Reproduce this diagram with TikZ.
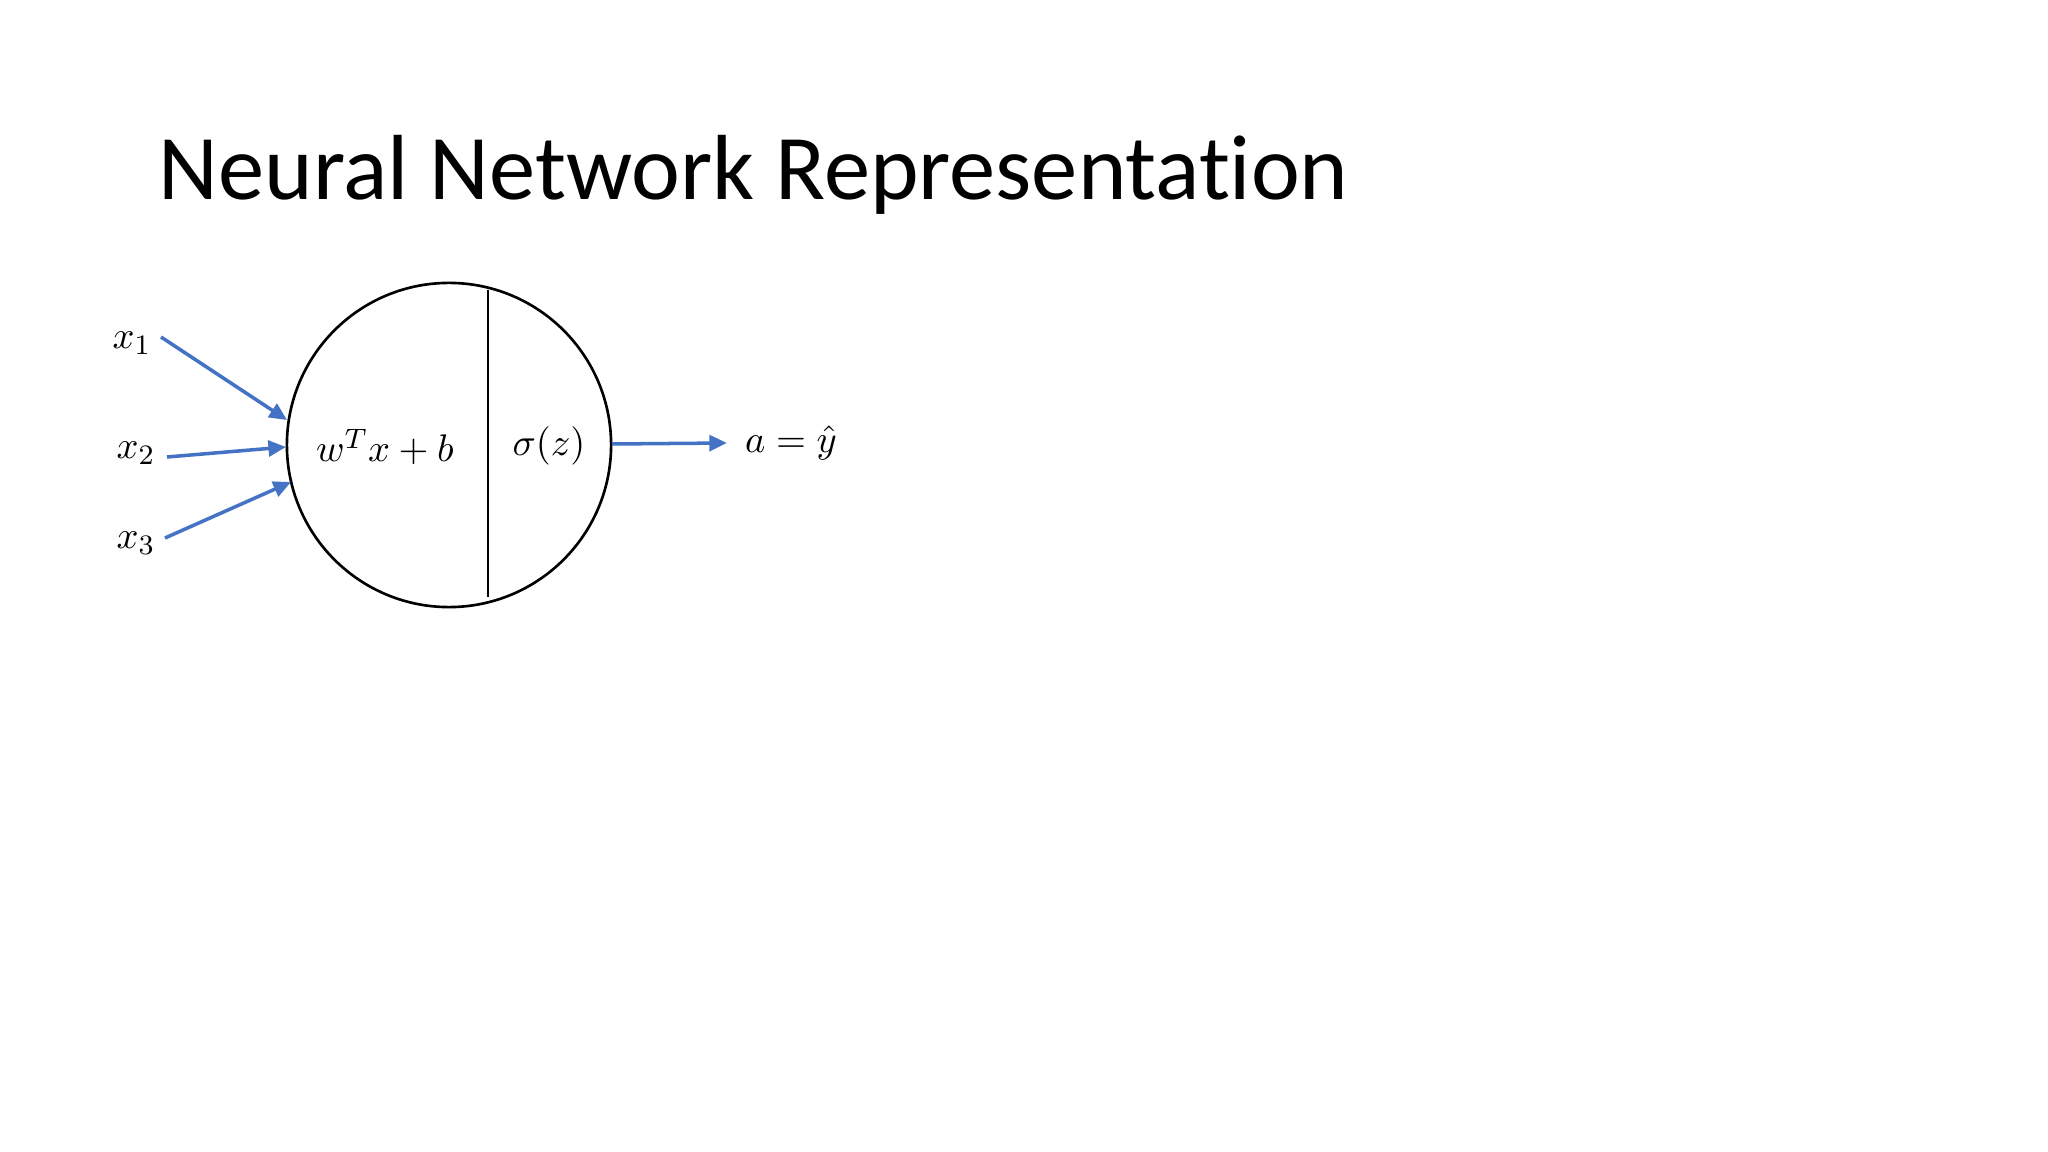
\documentclass[tikz,border=0pt]{standalone}
\usepackage{fontspec}
\newfontfamily\titlefont[RawFeature={-liga}]{Carlito}
\usetikzlibrary{arrows.meta,calc}
\definecolor{arrowblue}{HTML}{4472C4}
\tikzset{
  inarrow/.style={draw=arrowblue, line width=1pt, -{Triangle[length=5pt,width=4.5pt]}},
  mathlbl/.style={inner sep=0pt, font=\fontsize{11.4}{14}\selectfont},
}
\begin{document}
\begin{tikzpicture}[x=0.01cm, y=-0.01cm]
\useasboundingbox[fill=white] (0,0) rectangle (2048,1152);
% title
\node[anchor=base west, inner sep=0pt, font=\titlefont\fontsize{26.3}{32}\selectfont] (title) at (158,200) {Neural Network Representation};
% neuron
\node[draw=black, line width=0.75pt, circle, minimum size=3.24cm, inner sep=0pt] (neuron) at (449,445) {};
\coordinate (divtop) at (488,290);
\coordinate (divbot) at (488,597);
\draw[line width=0.45pt] (divtop) -- (divbot);
\node[mathlbl] (lin) at (385,447) {$w^{T}x+b$};
\node[mathlbl] (act) at (549,446) {$\sigma(z)$};
% inputs
\node[mathlbl] (x1) at (132,343) {$x_1$};
\node[mathlbl] (x2) at (136,453) {$x_2$};
\node[mathlbl] (x3) at (136,543) {$x_3$};
\node[mathlbl] (out) at (791,443) {$a=\hat{y}$};
\coordinate (s1) at (161,337);
\coordinate (s2) at (167,457);
\coordinate (s3) at (165,538);
\coordinate (e1) at (287,420);
\coordinate (e2) at (286,447);
\coordinate (e3) at (291,482);
\coordinate (os) at (612,444);
\coordinate (oe) at (727,443);
\draw[inarrow] (s1) -- (e1);
\draw[inarrow] (s2) -- (e2);
\draw[inarrow] (s3) -- (e3);
\draw[inarrow] (os) -- (oe);
\end{tikzpicture}
\end{document}
